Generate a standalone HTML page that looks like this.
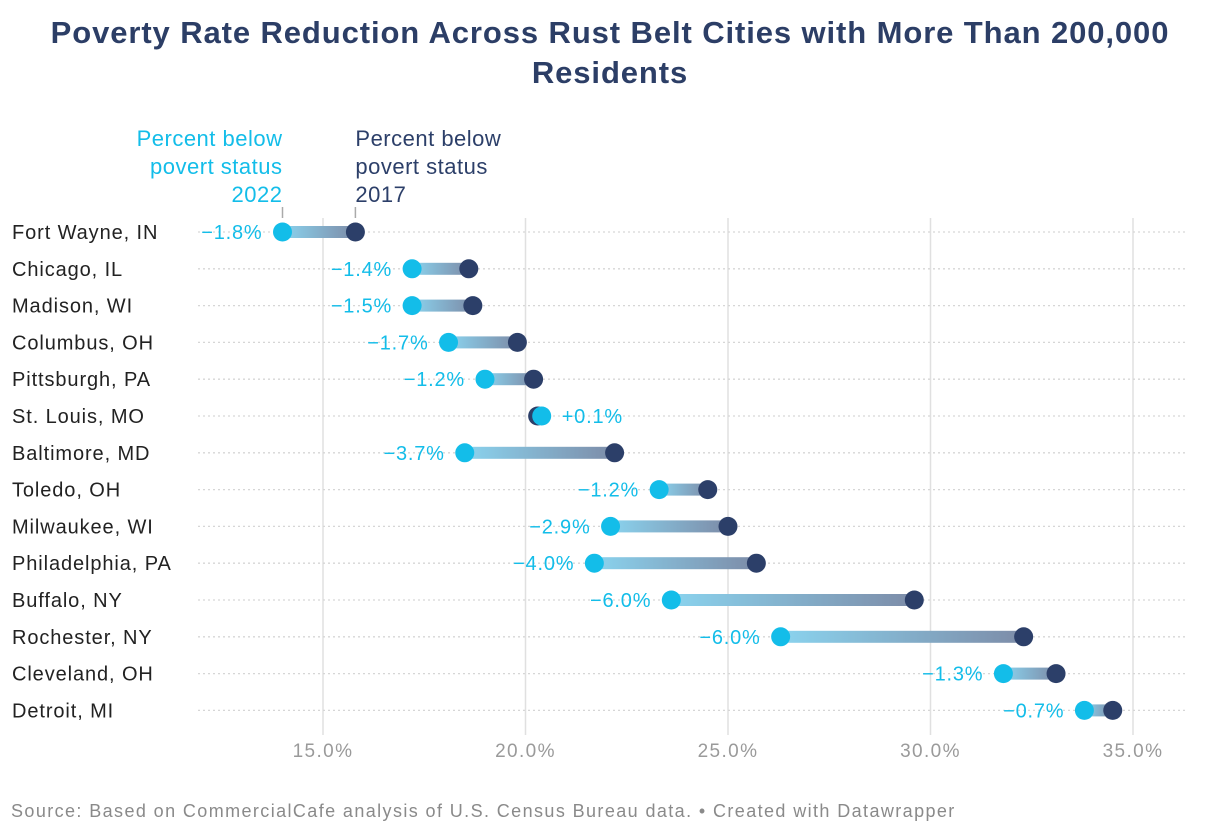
<!DOCTYPE html>
<html><head><meta charset="utf-8">
<style>
body{margin:0;background:#fff;width:1220px;height:838px;overflow:hidden;font-family:"Liberation Sans",sans-serif;}
#title{position:absolute;left:0;width:1220px;top:13px;text-align:center;font-weight:bold;font-size:31px;letter-spacing:0.9px;line-height:40px;color:#2c3e66;}
#source{position:absolute;left:11px;top:801px;font-size:18px;letter-spacing:1.4px;color:#8a8a8a;white-space:nowrap;}
svg{position:absolute;left:0;top:0;}
</style></head><body>
<div id="title">Poverty Rate Reduction Across Rust Belt Cities with More Than 200,000<br>Residents</div>
<svg id="chart" width="1220" height="838"></svg>
<div id="source">Source: Based on CommercialCafe analysis of U.S. Census Bureau data. • Created with Datawrapper</div>
<script>
const cities=["Fort Wayne, IN","Chicago, IL","Madison, WI","Columbus, OH","Pittsburgh, PA","St. Louis, MO","Baltimore, MD","Toledo, OH","Milwaukee, WI","Philadelphia, PA","Buffalo, NY","Rochester, NY","Cleveland, OH","Detroit, MI"];
const v2017=[15.8,18.6,18.7,19.8,20.2,20.3,22.2,24.5,25.0,25.7,29.6,32.3,33.1,34.5];
const v2022=[14.0,17.2,17.2,18.1,19.0,20.4,18.5,23.3,22.1,21.7,23.6,26.3,31.8,33.8];
const changes=["−1.8%","−1.4%","−1.5%","−1.7%","−1.2%","+0.1%","−3.7%","−1.2%","−2.9%","−4.0%","−6.0%","−6.0%","−1.3%","−0.7%"];
const ticks=[15,20,25,30,35];
const ns="http://www.w3.org/2000/svg";
const svg=document.getElementById('chart');
const X=v=>323+(v-15)*40.5;
const Y=i=>232+i*36.8;
const LIGHT="#13bde9",DARK="#2c3f69";
function mk(t,a,txt){const e=document.createElementNS(ns,t);for(const k in a)e.setAttribute(k,a[k]);if(txt!==undefined)e.textContent=txt;svg.appendChild(e);return e;}
const defs=document.createElementNS(ns,'defs');svg.appendChild(defs);
defs.innerHTML='<linearGradient id="gR" x1="0" x2="1" y1="0" y2="0"><stop offset="0" stop-color="#8ad3ee"/><stop offset="1" stop-color="#7d8ca8"/></linearGradient><linearGradient id="gL" x1="1" x2="0" y1="0" y2="0"><stop offset="0" stop-color="#8ad3ee"/><stop offset="1" stop-color="#7d8ca8"/></linearGradient>';
ticks.forEach(t=>{
 const l=mk('line',{x1:X(t),x2:X(t),y1:218,y2:735,stroke:"#e0e0e0","stroke-width":1.5});
 
 const tx=mk('text',{x:X(t),y:757,"text-anchor":"middle","font-size":19,"letter-spacing":1.4,fill:"#9a9a9a"},t.toFixed(1)+"%");
 
});
cities.forEach((c,i)=>{
 const y=Y(i);
 const g=mk('line',{x1:198,x2:1188,y1:y,y2:y,stroke:"#d6d6d6","stroke-width":1.3,"stroke-dasharray":"2,3"});
 
 const lb=mk('text',{x:12,y:y+7,"font-size":20,"letter-spacing":0.9,fill:"#222"},c);
 
 const a=X(v2017[i]),b=X(v2022[i]);
 const lo=Math.min(a,b),w=Math.max(Math.abs(a-b),0.5);
 const bar=mk('rect',{x:lo,y:y-6,width:w,height:12,fill:b<a?"url(#gR)":"url(#gL)"});
 
 const d1=mk('circle',{cx:a,cy:y,r:9.5,fill:DARK});
 
 const d2=mk('circle',{cx:b,cy:y,r:9.5,fill:LIGHT});
 
 const inc=v2022[i]>v2017[i];
 const vl=mk('text',{x:inc?b+20:b-20,y:y+7,"font-size":20,"letter-spacing":0.8,fill:LIGHT,"text-anchor":inc?"start":"end"},changes[i]);
 
});
const lx1=X(v2022[0]),lx2=X(v2017[0]);
[["Percent below",146],["povert status",174],["2022",202]].forEach(([t,y])=>{const e=mk('text',{x:lx1,y:y,"font-size":22,"letter-spacing":0.5,fill:LIGHT,"text-anchor":"end"},t);});
[["Percent below",146],["povert status",174],["2017",202]].forEach(([t,y])=>{const e=mk('text',{x:lx2,y:y,"font-size":22,"letter-spacing":0.5,fill:DARK},t);});
[lx1,lx2].forEach(x=>{const e=mk('line',{x1:x,x2:x,y1:207,y2:218,stroke:"#aaa","stroke-width":1.5});});
</script>
</body></html>
